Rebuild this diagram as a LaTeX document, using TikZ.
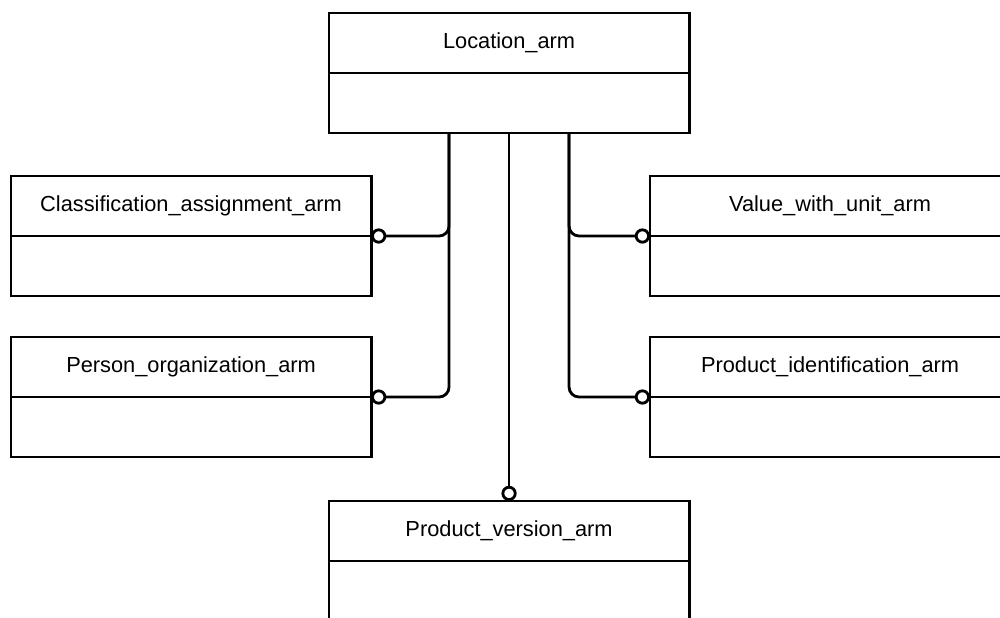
\documentclass[tikz,border=0pt]{standalone}
\usepackage{fontspec}
\setmainfont{Liberation Sans}
\usepackage{tikz}
\usetikzlibrary{calc, arrows.meta}
\tikzset{
	entbox/.style = {draw, line width = 2pt, outer sep = 0pt, minimum width = 9cm, minimum height = 1.5cm, inner sep = 0pt, font = \fontsize{15.5}{18}\selectfont},
	link/.style = {line width = 2pt, rounded corners = 0.25cm, -{Circle[open, fill = white, length = 0.38cm, width = 0.38cm]}}
}

\begin{document}
\begin{tikzpicture}[x = 0.025cm, y = -0.025cm]
	\clip (0, 0) rectangle (1000, 618);
	\node[entbox, anchor = north west] (loc) at (329, 13) {Location\_arm};
	\node[entbox, anchor = north] (locb) at (loc.south) {};
	\node[entbox, anchor = north west] (cls) at (11, 176) {Classification\_assignment\_arm};
	\node[entbox, anchor = north] (clsb) at (cls.south) {};
	\node[entbox, anchor = north west] (per) at (11, 337) {Person\_organization\_arm};
	\node[entbox, anchor = north] (perb) at (per.south) {};
	\node[entbox, anchor = north west] (val) at (650, 176) {Value\_with\_unit\_arm};
	\node[entbox, anchor = north] (valb) at (val.south) {};
	\node[entbox, anchor = north west] (pid) at (650, 337) {Product\_identification\_arm};
	\node[entbox, anchor = north] (pidb) at (pid.south) {};
	\node[entbox, anchor = north west] (pvr) at (329, 501) {Product\_version\_arm};
	\node[entbox, anchor = north] (pvrb) at (pvr.south) {};
	\coordinate (locL) at ($(locb.south) + (-60, 0)$);
	\coordinate (locR) at ($(locb.south) + (60, 0)$);
	\draw[link] (locL) |- (clsb.north east);
	\draw[link] (locL) |- (perb.north east);
	\draw[link] (locR) |- (valb.north west);
	\draw[link] (locR) |- (pidb.north west);
	\draw[link] (locb.south) -- (pvr.north);
\end{tikzpicture}
\end{document}
